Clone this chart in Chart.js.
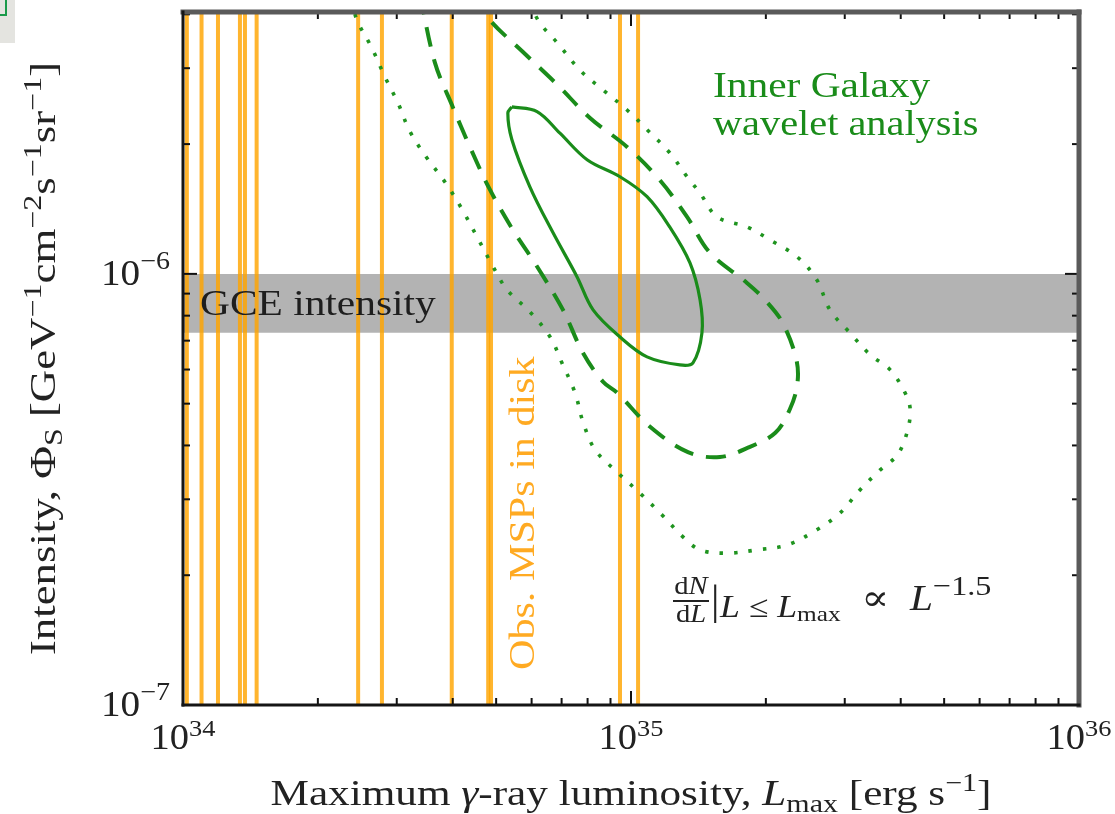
<!DOCTYPE html>
<html><head><meta charset="utf-8">
<script src="https://cdn.jsdelivr.net/npm/chart.js@4.4.0/dist/chart.umd.min.js"></script>
<style>html,body{margin:0;padding:0;background:#fff;}#wrap{width:1115px;height:814px;}</style>
</head><body><div id="wrap"><canvas id="c" width="1115" height="814"></canvas></div>
<script>
// ---- axis ranges & ticks ----
const xRange = [1e34, 1e36];
const yRange = [1e-7, 4.05e-6];
const xMajorTicks = [1e34, 1e35, 1e36];
const xTickExponents = ['34', '35', '36'];
const yMajorTicks = [1e-7, 1e-6];
const yTickExponents = ['\u22127', '\u22126'];
const minorMultipliers = [2, 3, 4, 5, 6, 7, 8, 9];

// ---- observed MSPs in the disk (vertical lines) ----
const mspLuminosity = [1.02e34, 1.10e34, 1.197e34, 1.34e34, 1.375e34, 1.46e34, 2.46e34, 2.78e34, 3.98e34, 4.80e34, 4.87e34, 9.45e34, 1.037e35];

// ---- GCE intensity band ----
const gceBand = [7.3e-7, 1.0e-6];

// ---- Inner Galaxy wavelet analysis contours ----
const solidL = [5.42e34, 6.17e34, 6.94e34, 7.98e34, 9.45e34, 1.086e35, 1.22e35, 1.354e35, 1.426e35, 1.44e35, 1.375e35, 1.286e35, 1.086e35, 9.45e34, 8.23e34, 7.58e34, 6.70e34, 5.95e34, 5.42e34, 5.31e34];
const solidPhi = [2.44e-6, 2.38e-6, 2.12e-6, 1.84e-6, 1.68e-6, 1.51e-6, 1.285e-6, 1.06e-6, 8.71e-7, 7.30e-7, 6.22e-7, 6.15e-7, 6.42e-7, 7.14e-7, 8.25e-7, 9.84e-7, 1.245e-6, 1.59e-6, 2.05e-6, 2.36e-6];

const dashL = [3.38e34, 3.65e34, 3.98e34, 4.37e34, 4.84e34, 5.45e34, 6.17e34, 7.05e34, 7.81e34, 8.66e34, 9.31e34, 1.103e35, 1.34e35, 1.58e35, 1.843e35, 2.10e35, 2.26e35, 2.35e35, 2.34e35, 2.18e35, 1.99e35, 1.815e35, 1.50e35, 1.334e35, 1.16e35, 9.80e34, 8.10e34, 6.84e34, 5.74e34, 4.84e34, 4.55e34];
const dashPhi = [4.44e-6, 3.09e-6, 2.47e-6, 1.97e-6, 1.57e-6, 1.265e-6, 1.04e-6, 8.25e-7, 6.56e-7, 5.62e-7, 5.30e-7, 4.42e-7, 3.86e-7, 3.76e-7, 3.97e-7, 4.28e-7, 4.84e-7, 5.53e-7, 6.32e-7, 7.70e-7, 8.71e-7, 9.53e-7, 1.12e-6, 1.356e-6, 1.65e-6, 1.97e-6, 2.30e-6, 2.75e-6, 3.27e-6, 3.88e-6, 4.32e-6];

const dotL = [2.38e34, 2.445e34, 2.64e34, 2.825e34, 3.02e34, 3.21e34, 3.50e34, 3.85e34, 4.20e34, 4.53e34, 4.92e34, 5.29e34, 5.95e34, 6.60e34, 7.01e34, 7.50e34, 7.81e34, 8.31e34, 9.31e34, 1.047e35, 1.173e35, 1.306e35, 1.426e35, 1.638e35, 1.91e35, 2.23e35, 2.60e35, 2.93e35, 3.24e35, 3.60e35, 3.93e35, 4.13e35, 4.20e35, 4.09e35, 3.79e35, 3.42e35, 3.08e35, 2.78e35, 2.60e35, 2.35e35, 2.04e35, 1.815e35, 1.556e35, 1.426e35, 1.334e35, 1.22e35, 1.086e35, 9.80e34, 8.66e34, 7.69e34, 6.84e34, 6.26e34, 5.89e34];
const dotPhi = [4.32e-6, 3.88e-6, 3.34e-6, 2.86e-6, 2.49e-6, 2.14e-6, 1.86e-6, 1.63e-6, 1.41e-6, 1.22e-6, 1.04e-6, 9.18e-7, 8.16e-7, 7.14e-7, 6.22e-7, 5.30e-7, 4.54e-7, 3.91e-7, 3.47e-7, 3.10e-7, 2.76e-7, 2.455e-7, 2.29e-7, 2.25e-7, 2.29e-7, 2.35e-7, 2.55e-7, 2.79e-7, 3.15e-7, 3.51e-7, 3.80e-7, 4.28e-7, 4.84e-7, 5.30e-7, 5.99e-7, 6.49e-7, 7.30e-7, 8.25e-7, 9.68e-7, 1.095e-6, 1.20e-6, 1.285e-6, 1.356e-6, 1.54e-6, 1.68e-6, 1.91e-6, 2.16e-6, 2.40e-6, 2.67e-6, 2.97e-6, 3.44e-6, 3.82e-6, 4.32e-6];

// ---- helpers ----
const SERIF = "'Liberation Serif','DejaVu Serif','Times New Roman',serif";
const GREEN = '#1a8c1a';
const zip = (xs, ys) => xs.map((x, i) => ({x: x, y: ys[i]}));

function drawRich(ctx, parts, x, y, o) {
  const S = o.size, k = o.stretch || 1;
  ctx.save();
  ctx.translate(x, y);
  if (o.rotate) ctx.rotate(o.rotate);
  ctx.scale(k, 1);
  ctx.fillStyle = o.color || '#111';
  ctx.textBaseline = 'alphabetic';
  ctx.textAlign = 'left';
  const fonts = parts.map(p => (p.it ? 'italic ' : '') + Math.round(S * (p.s || 1)) + 'px ' + SERIF);
  let w = 0;
  parts.forEach((p, i) => { ctx.font = fonts[i]; w += ctx.measureText(p.t).width; });
  let cx = o.align === 'center' ? -w / 2 : (o.align === 'right' ? -w : 0);
  parts.forEach((p, i) => { ctx.font = fonts[i]; ctx.fillText(p.t, cx, (p.dy || 0) * S); cx += ctx.measureText(p.t).width; });
  ctx.restore();
}

const decor = {
  id: 'decor',
  beforeDraw(chart) {
    const ctx = chart.ctx;
    ctx.save();
    ctx.fillStyle = '#fff';
    ctx.fillRect(0, 0, chart.width, chart.height);
    ctx.fillStyle = '#e4e4e0';
    ctx.fillRect(0, 0, 15, 43);
    ctx.strokeStyle = '#1a9a4a';
    ctx.lineWidth = 2;
    ctx.strokeRect(-2, -2, 8, 17);
    ctx.restore();
  },
  afterDatasetsDraw(chart) {
    const ctx = chart.ctx, a = chart.chartArea;
    const xs = chart.scales.x, ys = chart.scales.y;
    ctx.save();
    ctx.strokeStyle = '#111';
    ctx.lineWidth = 2;
    const tick = (x1, y1, x2, y2) => { ctx.beginPath(); ctx.moveTo(x1, y1); ctx.lineTo(x2, y2); ctx.stroke(); };
    xMajorTicks.forEach((v, i) => {
      const px = xs.getPixelForValue(v);
      tick(px, a.bottom, px, a.bottom - 14); tick(px, a.top, px, a.top + 14);
      if (i < xMajorTicks.length - 1) minorMultipliers.forEach(m => {
        const q = xs.getPixelForValue(v * m);
        tick(q, a.bottom, q, a.bottom - 7); tick(q, a.top, q, a.top + 7);
      });
    });
    yMajorTicks.forEach(v => {
      const py = ys.getPixelForValue(v);
      tick(a.left, py, a.left + 14, py); tick(a.right, py, a.right - 14, py);
      minorMultipliers.forEach(m => {
        if (v * m > yRange[1]) return;
        const q = ys.getPixelForValue(v * m);
        tick(a.left, q, a.left + 7, q); tick(a.right, q, a.right - 7, q);
      });
    });
    ctx.lineCap = 'square';
    ctx.strokeStyle = '#5a5a5a'; ctx.lineWidth = 5;
    tick(a.left, a.top, a.right, a.top); tick(a.right, a.top, a.right, a.bottom);
    ctx.strokeStyle = '#151515'; ctx.lineWidth = 3;
    tick(a.left, a.top, a.left, a.bottom); tick(a.left, a.bottom, a.right, a.bottom);
    ctx.restore();

    // tick labels
    xMajorTicks.forEach((v, i) => {
      drawRich(ctx, [{t: '10'}, {t: xTickExponents[i], s: 0.68, dy: -0.38}], xs.getPixelForValue(v), a.bottom + 44, {size: 35, stretch: 1.1, align: 'center', color: '#222'});
    });
    yMajorTicks.forEach((v, i) => {
      drawRich(ctx, [{t: '10'}, {t: yTickExponents[i], s: 0.7, dy: -0.45}], a.left - 13, ys.getPixelForValue(v) + 11, {size: 35, stretch: 1.12, align: 'right', color: '#222'});
    });

    // axis titles
    drawRich(ctx, [
      {t: 'Maximum '}, {t: '\u03b3', it: true}, {t: '-ray luminosity, '}, {t: 'L', it: true},
      {t: 'max', s: 0.7, dy: 0.2}, {t: ' [erg s'}, {t: '\u22121', s: 0.7, dy: -0.4}, {t: ']'}
    ], (a.left + a.right) / 2, 805, {size: 36, stretch: 1.2, align: 'center', color: '#222'});
    drawRich(ctx, [
      {t: 'Intensity, \u03a6'}, {t: 'S', s: 0.7, dy: 0.2}, {t: ' [GeV'}, {t: '\u22121', s: 0.7, dy: -0.4},
      {t: 'cm'}, {t: '\u22122', s: 0.7, dy: -0.4}, {t: 's'}, {t: '\u22121', s: 0.7, dy: -0.4},
      {t: 'sr'}, {t: '\u22121', s: 0.7, dy: -0.4}, {t: ']'}
    ], 55, (a.top + a.bottom) / 2, {size: 35, stretch: 1.28, align: 'center', rotate: -Math.PI / 2, color: '#222'});

    // annotations
    drawRich(ctx, [{t: 'GCE intensity'}], 200, 315, {size: 36, stretch: 1.15, color: '#1e1e1e'});
    drawRich(ctx, [{t: 'Inner Galaxy'}], 713, 97, {size: 36, stretch: 1.15, color: GREEN});
    drawRich(ctx, [{t: 'wavelet analysis'}], 713, 135, {size: 36, stretch: 1.12, color: GREEN});
    drawRich(ctx, [{t: 'Obs. MSPs in disk'}], 534, 670, {size: 36, stretch: 1.17, rotate: -Math.PI / 2, color: '#ffaa22'});

    // formula dN/dL |_{L<=Lmax} ∝ L^-1.5
    drawRich(ctx, [{t: 'd'}, {t: 'N', it: true}], 691, 594, {size: 26, stretch: 1.1, align: 'center', color: '#222'});
    drawRich(ctx, [{t: 'd'}, {t: 'L', it: true}], 691, 622, {size: 26, stretch: 1.1, align: 'center', color: '#222'});
    ctx.save(); ctx.strokeStyle = '#222'; ctx.lineWidth = 1.8;
    ctx.beginPath(); ctx.moveTo(673, 601); ctx.lineTo(709, 601); ctx.stroke(); ctx.restore();
    drawRich(ctx, [{t: '|'}], 711, 614, {size: 42, color: '#222'});
    drawRich(ctx, [
      {t: 'L \u2264 L', it: true, s: 0.85, dy: 0.2}, {t: 'max', s: 0.62, dy: 0.3},
      {t: '  \u221d  '}, {t: 'L', it: true}, {t: '\u22121.5', s: 0.78, dy: -0.42}
    ], 720, 610, {size: 36, stretch: 1.15, color: '#222'});
  }
};

const lineDatasets = mspLuminosity.map(L => ({
  data: [{x: L, y: yRange[0]}, {x: L, y: yRange[1]}],
  borderColor: 'rgba(255,165,0,0.82)', borderWidth: 4, pointRadius: 0, showLine: true, order: 5, clip: 0
}));

const datasets = [
  {data: zip(solidL, solidPhi).concat([{x: solidL[0], y: solidPhi[0]}]), borderColor: GREEN, borderWidth: 3.2,
   tension: 0.35, pointRadius: 0, showLine: true, order: 1, clip: 0},
  {data: zip(dashL, dashPhi), borderColor: GREEN, borderWidth: 4, borderDash: [20, 13], tension: 0.35,
   pointRadius: 0, showLine: true, order: 1, clip: 0},
  {data: zip(dotL, dotPhi), borderColor: '#1f941f', borderWidth: 3.6, borderDash: [3.5, 11], borderCapStyle: 'butt',
   tension: 0.35, pointRadius: 0, showLine: true, order: 1, clip: 0},
  ...lineDatasets,
  {data: [{x: xRange[0], y: gceBand[1]}, {x: xRange[1], y: gceBand[1]}], borderWidth: 0, borderColor: 'rgba(0,0,0,0)',
   backgroundColor: '#b3b3b3', fill: '+1', pointRadius: 0, showLine: true, order: 9, clip: 0},
  {data: [{x: xRange[0], y: gceBand[0]}, {x: xRange[1], y: gceBand[0]}], borderWidth: 0, borderColor: 'rgba(0,0,0,0)',
   pointRadius: 0, showLine: true, order: 10, clip: 0}
];

new Chart(document.getElementById('c'), {
  type: 'scatter',
  data: {datasets: datasets},
  options: {
    responsive: false, animation: false, devicePixelRatio: 1,
    layout: {padding: {left: 183, right: 36, top: 12, bottom: 109}},
    plugins: {legend: {display: false}, tooltip: {enabled: false}},
    scales: {
      x: {type: 'logarithmic', min: xRange[0], max: xRange[1], display: false},
      y: {type: 'logarithmic', min: yRange[0], max: yRange[1], display: false}
    }
  },
  plugins: [decor]
});
</script>
</body></html>
